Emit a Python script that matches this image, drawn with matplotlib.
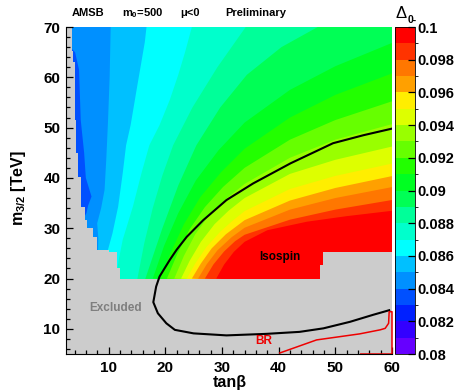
import numpy as np
import matplotlib
matplotlib.use('Agg')
import matplotlib.pyplot as plt
from matplotlib.colors import ListedColormap, BoundaryNorm
from matplotlib.patches import Polygon
import matplotlib.colorbar as mcb

plt.rcParams['font.family'] = ['Liberation Sans', 'DejaVu Sans']
plt.rcParams['font.weight'] = 'bold'
plt.rcParams['mathtext.fontset'] = 'custom'
plt.rcParams['mathtext.rm'] = 'Liberation Sans:bold'
plt.rcParams['mathtext.bf'] = 'Liberation Sans:bold'
plt.rcParams['mathtext.it'] = 'Liberation Sans:bold'
plt.rcParams['mathtext.default'] = 'bf'

# palette, one colour per 0.001 step from 0.080 to 0.100
levels = np.round(np.arange(0.080, 0.1001, 0.001), 3)
level_colors = ['#6600ff', '#3300ff', '#0020ff', '#0050ff', '#0090ff',
                '#00c0ff', '#00ffff', '#00ffcc', '#00ff99', '#00ff55',
                '#00ff22', '#22ff00', '#66ff00', '#99ff00', '#ddff00',
                '#ffee00', '#ffa000', '#ff7700', '#ff3300', '#ff0000']

# region where the scan has values (left staircase, then bottom/right edge)
left_t = [3.5, 3.8, 4.1, 4.3, 4.7, 5.1, 5.85, 6.15, 7.3, 8.0, 10.0, 11.5, 12.1]
left_hi = [70, 65.2, 63.1, 51.5, 45, 40.2, 34.3, 31.6, 30, 28.3, 25.7, 25.3, 22.0]
left_lo = [65.2, 63.1, 51.5, 45, 40.2, 34.3, 31.6, 30, 28.3, 25.7, 25.3, 22.0, 20]
bottom_t = [47.3, 47.3, 47.9, 47.9, 60.0, 60.0]
bottom_m = [20, 22.7, 22.7, 25.3, 25.3, 70]

# contour boundaries (tan beta, m3/2), value above each line
b084 = [(5.4, 18), (5.4, 31.6), (6.1, 33.0), (6.4, 34.5), (7.0, 36.3), (6.0, 40), (5.7, 45),
        (5.1, 51.5), (4.8, 61.5), (4.1, 65), (3.2, 66), (3.2, 71)]
b085 = [(8.0, 18), (8.2, 28), (8.0, 31), (8.7, 34), (9.3, 37.6), (9.6, 43.6), (9.9, 51),
        (10.2, 60), (10.4, 71)]
b086 = [(9.2, 18), (9.6, 24), (9.9, 25.7), (10.7, 29), (11.7, 34.3), (12.5, 40.9), (13.1, 46.5),
        (13.9, 50.5), (14.5, 54.5), (15.1, 58.5), (15.7, 62.4), (16.4, 67), (16.8, 71)]
b087 = [(11.1, 18), (11.3, 20), (11.8, 23.7), (12.5, 27.7), (14.3, 34.3), (15.8, 40.9),
        (17.2, 46.5), (19.0, 50.5), (20.8, 55.5), (22.3, 60.5), (23.5, 65), (24.7, 70), (24.8, 71)]
b088 = [(14.9, 18), (15.1, 20), (16.3, 27), (17.8, 34), (19.5, 40.5), (21.4, 46.5), (24.8, 54),
        (29.2, 62), (34.2, 70), (34.4, 71)]
b089 = [(16.3, 18), (16.5, 20), (19.5, 30), (22.3, 38.5), (25.5, 46.5), (29.7, 54), (34.4, 60.5),
        (40.5, 66), (46.9, 70), (47.3, 71)]
b090 = [(17.8, 20), (19.8, 26.5), (22.3, 33), (25.4, 39.5), (29.4, 45.5), (34, 51), (42, 57.5),
        (50, 62.2), (61, 67.3)]
b091 = [(19.1, 20), (20.9, 25), (23.3, 30.8), (26.2, 36.2), (29.9, 41.2), (34, 45.8), (42, 52),
        (50, 56.5), (61, 61.2)]
b092 = [(20.3, 20), (22.1, 24.8), (24.3, 29.8), (27.0, 34.2), (30.2, 38.2), (34, 42), (42, 47.6),
        (50, 51.5), (61, 55.6)]
b093 = [(21.6, 20), (23.3, 24.5), (25.3, 28.8), (27.7, 32.5), (30.7, 35.8), (34, 38.8), (42, 44),
        (50, 47.6), (61, 51.0)]
b094 = [(22.8, 20), (24.3, 23.5), (26.3, 27.3), (28.7, 30.8), (31.2, 33.5), (34, 36), (42, 40.8),
        (50, 43.6), (61, 46.5)]
b095 = [(23.8, 20), (25.3, 23), (27.3, 26.3), (29.7, 29.3), (32.0, 31.6), (34, 33.4), (42, 37.8),
        (50, 40.4), (61, 43.1)]
b096 = [(24.7, 20), (26.3, 23), (28.2, 26), (30.7, 28.8), (34, 31.6), (42, 35.5), (50, 38.0),
        (61, 40.6)]
b097 = [(25.8, 20), (27.3, 22.8), (29.2, 25.6), (31.7, 28.2), (34, 30.1), (42, 33.7), (50, 36),
        (61, 38.4)]
b098 = [(27.0, 20), (28.5, 22.8), (30.4, 25.4), (32.3, 27.4), (34, 28.7), (42, 31.7), (50, 33.7),
        (61, 35.8)]
b099 = [(29.0, 20), (30.4, 22.8), (32.1, 25.3), (34, 27.3), (38, 29.6), (45, 31.3), (52, 32.4),
        (61, 33.6)]
boundaries = [b084, b085, b086, b087, b088, b089, b090, b091, b092, b093, b094, b095, b096,
              b097, b098, b099]

# isospin limit contour and BR contour
iso_t = [60.0, 55.0, 49.6, 42.1, 35.5, 30.8, 26.7, 23.8, 22.0, 20.8, 19.0, 18.4, 17.9, 18.7,
         20.2, 21.7, 25.0, 30.8, 37.8, 43.7, 47.9, 52.6, 56.7, 59.5]
iso_m = [49.8, 48.5, 46.9, 42.9, 38.9, 35.6, 31.6, 28.3, 25.7, 23.7, 20.4, 18.4, 15.3, 13.1,
         11.1, 9.8, 9.1, 8.7, 9.0, 9.4, 10.1, 11.4, 12.8, 13.7]
br_t = [40.2, 46.7, 54.3, 57.9, 58.8, 59.4, 59.5, 60.0, 60.0, 54.5]
br_m = [5.2, 7.8, 9.0, 9.8, 10.1, 11.1, 13.4, 13.4, 5.0, 5.0]

fig = plt.figure(figsize=(4.57, 3.91), dpi=100)
ax = fig.add_axes([66/457, 37/391, 326/457, 327/391])
ax.set_facecolor('#cccccc')
ax.set_xlim(2.5, 60)
ax.set_ylim(5, 70)

verts = []
for t, hi, lo in zip(left_t, left_hi, left_lo):
    verts += [(t, hi), (t, lo)]
verts += list(zip(bottom_t, bottom_m))
region = Polygon(verts, closed=True, fc=level_colors[3], ec='none', lw=0)
ax.add_patch(region)

for k, b in enumerate(boundaries):
    xs = [p[0] for p in b] + [62, 62]
    ys = [p[1] for p in b] + [b[-1][1], 17]
    poly, = ax.fill(xs, ys, color=level_colors[4 + k], lw=0)
    poly.set_clip_path(region)

ax.plot(iso_t, iso_m, color='black', lw=1.5)
ax.plot(br_t, br_m, color='#ee0000', lw=1.1, clip_on=False)

ax.text(40.3, 24.3, 'Isospin', ha='center', va='center', fontsize=8.5, color='black')
ax.text(11.2, 14.1, 'Excluded', ha='center', va='center', fontsize=8.5, color='#7f7f7f')
ax.text(37.3, 7.6, 'BR', ha='center', va='center', fontsize=8.5, color='#ee0000')

ax.set_xticks(range(10, 61, 10))
ax.set_xticks(np.arange(4, 61, 2), minor=True)
ax.set_yticks(range(10, 71, 10))
ax.set_yticks(np.arange(6, 71, 2), minor=True)
ax.tick_params(which='both', direction='in', top=False, right=False, labelsize=11, width=0.9)
ax.tick_params(which='major', length=5)
ax.tick_params(which='minor', length=3)
ax.tick_params(axis='x', pad=5)
ax.tick_params(axis='y', pad=4)
for s in ['top', 'right']:
    ax.spines[s].set_visible(False)

fig.text(230/457, 1 - 382/391, 'tanβ', ha='center', va='center', fontsize=11.5)
fig.text(19/457, 1 - 188/391, 'm$_{3/2}$ [TeV]', rotation=90, ha='center', va='center',
         fontsize=11.5)

fig.text(88/457, 1 - 13/391, 'AMSB', ha='center', va='center', fontsize=8)
fig.text(143/457, 1 - 13/391, 'm$_{0}$=500', ha='center', va='center', fontsize=8)
fig.text(190/457, 1 - 13/391, 'μ<0', ha='center', va='center', fontsize=8)
fig.text(256/457, 1 - 13/391, 'Preliminary', ha='center', va='center', fontsize=8)

cax = fig.add_axes([395/457, 37/391, 20/457, 327/391])
cb = mcb.ColorbarBase(cax, cmap=ListedColormap(level_colors),
                      norm=BoundaryNorm(levels, len(level_colors)))
cb.outline.set_linewidth(0.6)
cb_ticks = levels[::2]
cb.set_ticks(cb_ticks)
cb.set_ticklabels(['%g' % v for v in cb_ticks])
cax.tick_params(direction='in', length=5, width=0.9, labelsize=10.5, pad=1.5)

fig.text(401/457, 1 - 13/391, 'Δ', ha='center', va='center', fontsize=12, fontweight='normal')
fig.text(412/457, 1 - 20/391, '0-', ha='center', va='center', fontsize=7.5)

fig.savefig('out.png', dpi=100)
